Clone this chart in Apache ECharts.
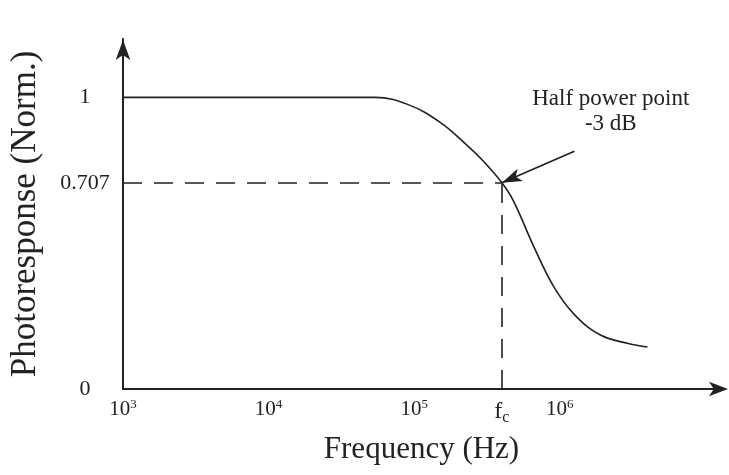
<!DOCTYPE html>
<html lang="en">
<head>
	<meta charset="UTF-8">
	<title>Photoresponse vs frequency</title>
	<script src="https://cdn.jsdelivr.net/npm/echarts@6/dist/echarts.min.js"></script>
	<style>
		html,body{margin:0;width:100%;height:100%;background:#fff;}
		#chart{width:729px;height:475px;}
	</style>
</head>
<body>
	<div id="chart"></div>
<script>
	// frequency (Hz) and normalised photoresponse
	var freqs = [1e3, 1e4, 5.4e4, 9.1e4, 1.5e5, 2.3e5, 3.0e5, 4.0e5, 4.8e5, 6.6e5, 9.1e5, 1.26e6, 1.9e6, 2.95e6, 4.0e6];
	var response = [1, 1, 1, 0.975, 0.915, 0.836, 0.78, 0.707, 0.645, 0.49, 0.35, 0.255, 0.185, 0.156, 0.144];

	var fc = 4.0e5;          // cut-off frequency
	var halfPower = 0.707;   // -3 dB level
	var xTicks = [1e3, 1e4, 1e5, fc, 1e6];
	var yTicks = [0, halfPower, 1];

	var serif = '"Liberation Serif", "DejaVu Serif", serif';
	var ink = '#222';

	var lg = function (v) { return Math.log10(v); };
	var lfc = lg(fc);

	var points = [];
	for (var i = 0; i < freqs.length; i++) {
		points.push([lg(freqs[i]), response[i]]);
	}

	var myChart = echarts.init(document.getElementById('chart'));

	var options = {
		backgroundColor: '#fff',
		animation: false,
		grid: { left: 121, right: 9, top: 39, bottom: 86 },
		xAxis: {
			type: 'value',
			min: 3,
			max: 7.1,
			interval: 1,
			name: 'Frequency (Hz)',
			nameLocation: 'middle',
			nameGap: 45,
			nameTextStyle: { fontFamily: serif, fontSize: 31, color: ink },
			splitLine: { show: false },
			axisTick: { show: false },
			axisLine: {
				onZero: false,
				symbol: ['none', 'arrow'],
				symbolSize: [11, 19],
				symbolOffset: [0, 8],
				lineStyle: { color: ink, width: 2 }
			},
			axisLabel: {
				customValues: xTicks.map(lg),
				margin: 9,
				color: ink,
				fontFamily: serif,
				fontSize: 21,
				formatter: function (v) {
					if (Math.abs(v - lfc) < 1e-6) return '{f|f}{c|c}';
					return '10{s|' + Math.round(v) + '}';
				},
				rich: {
					s: { fontFamily: serif, fontSize: 13, color: ink, verticalAlign: 'top', padding: [0, 0, 9, 0] },
					f: { fontFamily: serif, fontSize: 24, color: ink },
					c: { fontFamily: serif, fontSize: 16, color: ink, verticalAlign: 'bottom', padding: [12, 0, 0, 0] }
				}
			}
		},
		yAxis: {
			type: 'value',
			min: 0,
			max: 1.2,
			name: 'Photoresponse (Norm.)',
			nameLocation: 'middle',
			nameRotate: 90,
			nameGap: 80,
			nameTextStyle: { fontFamily: serif, fontSize: 35, color: ink },
			splitLine: { show: false },
			axisTick: { show: false },
			axisLine: {
				symbol: ['none', 'arrow'],
				symbolSize: [11, 20],
				symbolOffset: [0, -1],
				lineStyle: { color: ink, width: 2 }
			},
			axisLabel: {
				customValues: yTicks,
				align: 'center',
				margin: 38,
				color: ink,
				fontFamily: serif,
				fontSize: 22,
				formatter: function (v) { return v === halfPower ? '0.707' : String(v); }
			}
		},
		series: [{
			type: 'line',
			data: points,
			smooth: 0.4,
			showSymbol: false,
			lineStyle: { color: ink, width: 1.6 },
			markLine: {
				silent: true,
				symbol: 'none',
				label: { show: false },
				lineStyle: { color: ink, width: 1.6, type: [19, 12] },
				data: [
					[{ coord: [3, halfPower] }, { coord: [lfc, halfPower] }],
					[{ coord: [lfc, 0] }, { coord: [lfc, halfPower] }],
					[
						{ coord: [6.1, 0.815], symbol: 'none', lineStyle: { type: 'solid', width: 1.8 } },
						{ coord: [lfc, halfPower], symbol: 'arrow', symbolSize: [10, 20] }
					]
				]
			},
			markPoint: {
				silent: true,
				symbolSize: 0,
				data: [{ coord: [6.35, 0.95] }],
				label: {
					show: true,
					position: 'inside',
					formatter: 'Half power point\n-3 dB',
					fontFamily: serif,
					fontSize: 23,
					lineHeight: 25,
					color: ink
				}
			}
		}]
	};
	myChart.setOption(options);
</script>
</body>
</html>
